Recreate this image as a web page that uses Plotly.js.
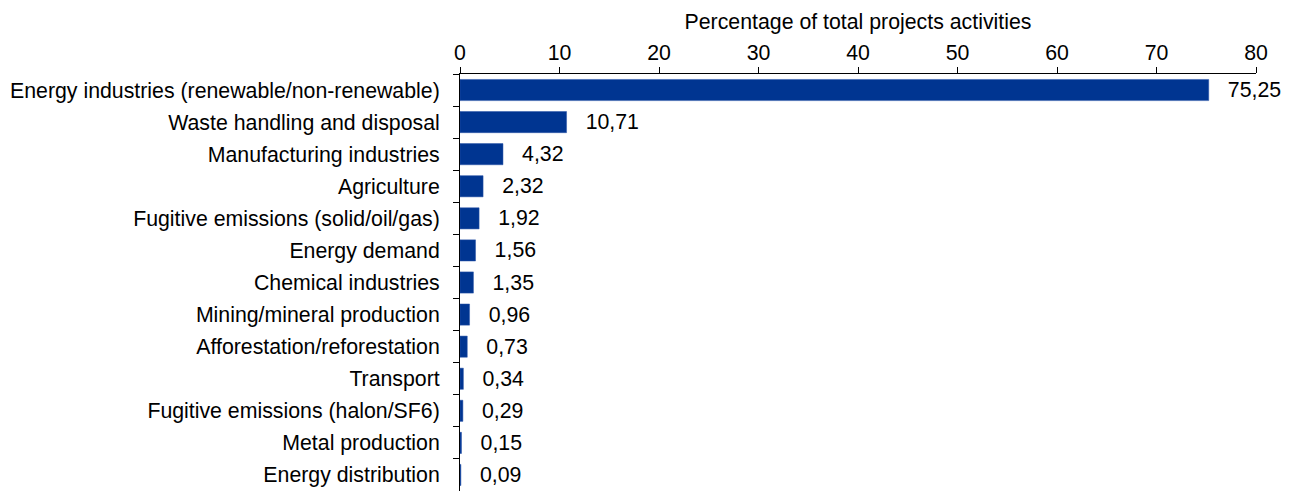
<!DOCTYPE html>
<html>
<head>
<meta charset="utf-8">
<script src="https://cdn.plot.ly/plotly-3.0.1.min.js"></script>
<style>html,body{margin:0;padding:0;background:#fff;}#chart{width:1291px;height:491px;}</style>
</head>
<body>
<div id="chart"></div>
<script>
const categories = [
  "Energy industries (renewable/non-renewable)",
  "Waste handling and disposal",
  "Manufacturing industries",
  "Agriculture",
  "Fugitive emissions (solid/oil/gas)",
  "Energy demand",
  "Chemical industries",
  "Mining/mineral production",
  "Afforestation/reforestation",
  "Transport",
  "Fugitive emissions (halon/SF6)",
  "Metal production",
  "Energy distribution"
];
const values = [75.25, 10.71, 4.32, 2.32, 1.92, 1.56, 1.35, 0.96, 0.73, 0.34, 0.29, 0.15, 0.09];
const xTicks = [0, 10, 20, 30, 40, 50, 60, 70, 80];
const xTitle = "Percentage of total projects activities";

const fontFam = "Liberation Sans, Arial, sans-serif";
const fs = 21.3;
const trace = {
  type: "bar",
  orientation: "h",
  x: values,
  y: categories,
  marker: {color: "#003591", line: {color: "#2a55a8", width: 0.5}},
  texttemplate: "\u00a0\u00a0\u2009%{x:.2f}",
  textposition: "outside",
  constraintext: "none",
  cliponaxis: false,
  textfont: {family: fontFam, size: fs, color: "#000"},
  hoverinfo: "none"
};
const layout = {
  width: 1291, height: 491,
  margin: {l: 460, r: 35, t: 74, b: 0},
  paper_bgcolor: "#fff", plot_bgcolor: "#fff",
  separators: ", ",
  bargap: 0.34,
  showlegend: false,
  font: {family: fontFam, size: fs, color: "#000"},
  xaxis: {
    side: "top",
    range: [0, 80],
    tickvals: xTicks,
    ticktext: xTicks.map(String),
    ticks: "outside", ticklen: 6, tickcolor: "#000", tickwidth: 1,
    ticklabelstandoff: -2,
    showline: true, linecolor: "#000", linewidth: 1,
    showgrid: false, zeroline: false,
    title: {text: xTitle, standoff: 6, font: {family: fontFam, size: fs}},
    tickfont: {family: fontFam, size: fs}
  },
  yaxis: {
    type: "category",
    autorange: "reversed",
    ticks: "outside", ticklen: 6, tickcolor: "#000", tickwidth: 1,
    tickson: "boundaries",
    ticklabelstandoff: 15,
    showline: true, linecolor: "#000", linewidth: 1,
    showgrid: false, zeroline: false,
    tickfont: {family: fontFam, size: fs}
  }
};
Plotly.newPlot("chart", [trace], layout, {displayModeBar: false, staticPlot: true});
</script>
</body>
</html>
